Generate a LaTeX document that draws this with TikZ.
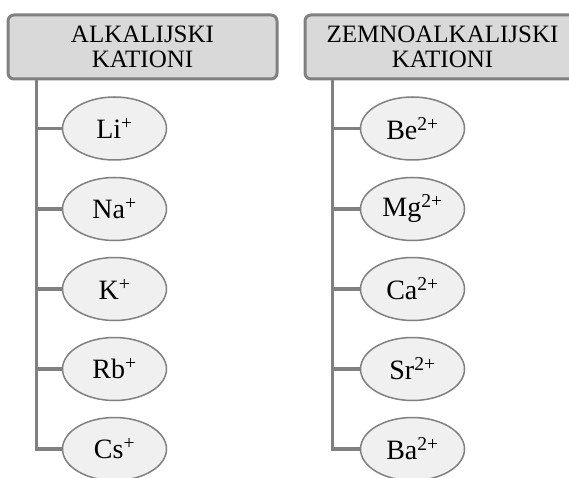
\documentclass[tikz,border=0pt]{standalone}
\usepackage{fontspec}
\setmainfont{Liberation Serif}
\usetikzlibrary{shapes.geometric,backgrounds}
\definecolor{lineg}{HTML}{808080}
\definecolor{boxfill}{HTML}{D9D9D9}
\definecolor{ellfill}{HTML}{F0F0F0}
\tikzset{
  hdr/.style={draw=lineg, line width=3pt, fill=boxfill, rounded corners=6pt,
    minimum height=64pt, inner sep=0pt, align=center,
    font=\fontsize{25}{25}\selectfont},
  ion/.style={ellipse, draw=lineg, line width=1.5pt, fill=ellfill,
    minimum width=104pt, minimum height=63pt, inner sep=0pt,
    font=\fontsize{28}{30}\selectfont},
  conn/.style={draw=lineg, line width=3.5pt}
}
\begin{document}
\begin{tikzpicture}[x=1pt,y=-1pt]
\useasboundingbox (0,0) rectangle (569,478);
% left column
\node[hdr, minimum width=269pt] (hL) at (142.5,47) {ALKALIJSKI\\KATIONI};
\coordinate (tL) at (36.7,80);
\node[ion] (e1) at (114.5,128.5) {Li\textsuperscript{+}};
\node[ion] (e2) at (114.5,209) {Na\textsuperscript{+}};
\node[ion] (e3) at (114.5,289) {K\textsuperscript{+}};
\node[ion] (e4) at (114.5,369) {Rb\textsuperscript{+}};
\node[ion] (e5) at (114.5,449) {Cs\textsuperscript{+}};
% right column
\node[hdr, minimum width=275pt] (hR) at (442.5,47) {ZEMNOALKALIJSKI\\KATIONI};
\coordinate (tR) at (332.7,80);
\node[ion] (f1) at (412.5,128.5) {Be\textsuperscript{2+}};
\node[ion] (f2) at (412.5,209) {Mg\textsuperscript{2+}};
\node[ion] (f3) at (412.5,289) {Ca\textsuperscript{2+}};
\node[ion] (f4) at (412.5,369) {Sr\textsuperscript{2+}};
\node[ion] (f5) at (412.5,449) {Ba\textsuperscript{2+}};
% connectors
\begin{scope}[on background layer]
\draw[conn] (tL) |- (e5.west);
\foreach \i in {1,2,3,4} \draw[conn] (e\i.west -| tL) -- (e\i.west);
\draw[conn] (tR) |- (f5.west);
\foreach \i in {1,2,3,4} \draw[conn] (f\i.west -| tR) -- (f\i.west);
\end{scope}
\end{tikzpicture}
\end{document}
